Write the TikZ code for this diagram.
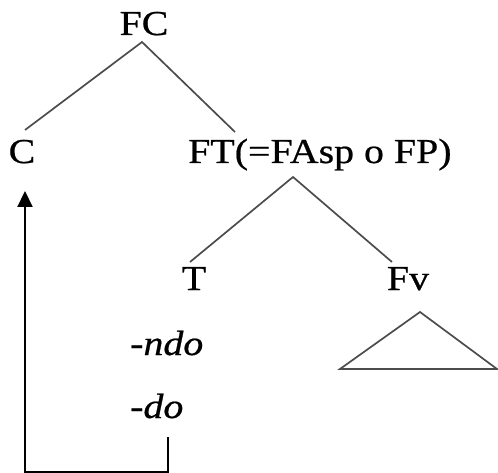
\documentclass[tikz,border=0pt]{standalone}
\usepackage{fontspec}
\setmainfont{Liberation Serif}[FakeStretch=1.14,FakeBold=0.6]
\usetikzlibrary{arrows.meta}
\begin{document}
\begin{tikzpicture}[x=1pt,y=-1pt,
  lbl/.style={inner sep=0pt,anchor=base,font=\fontsize{35}{40}\selectfont},
  ilbl/.style={inner sep=0pt,anchor=base,font=\fontsize{35}{40}\selectfont\itshape},
  branch/.style={draw=black!70,line width=1.7pt},
  mover/.style={draw=black,line width=2.2pt}]
\useasboundingbox (0,0) rectangle (498,473);
% labels
\node[lbl] (FC) at (144,35) {FC};
\node[lbl] (C) at (22,163) {C};
\node[lbl,anchor=base west] (FT) at (188,163) {FT(=FAsp o FP)};
\node[lbl] (T) at (194,290) {T};
\node[lbl] (Fv) at (408,290) {Fv};
\node[ilbl,anchor=base west] (ndo) at (130,355) {-ndo};
\node[ilbl,anchor=base west] (do) at (130,418) {-do};
% branch points
\coordinate (FCb) at (142,42);
\coordinate (Ct) at (25,130);
\coordinate (FTt) at (235,132);
\coordinate (FTb) at (293,177);
\coordinate (Tt) at (190,262);
\coordinate (Fvt) at (392,262);
\coordinate (triA) at (420,312);
\coordinate (triL) at (340,369);
\coordinate (triR) at (497,369);
% tree
\draw[branch] (Ct) -- (FCb) -- (FTt);
\draw[branch] (Tt) -- (FTb) -- (Fvt);
\draw[branch,line join=miter] (triL) -- (triA) -- (triR) -- cycle;
% movement arrow
\coordinate (mvS) at (168,437);
\coordinate (mvB) at (168,472);
\coordinate (mvL) at (25,472);
\coordinate (mvT) at (25,191);
\draw[mover,-{Triangle[length=16pt,width=15pt]}] (mvS) -- (mvB) -- (mvL) -- (mvT);
\end{tikzpicture}
\end{document}
